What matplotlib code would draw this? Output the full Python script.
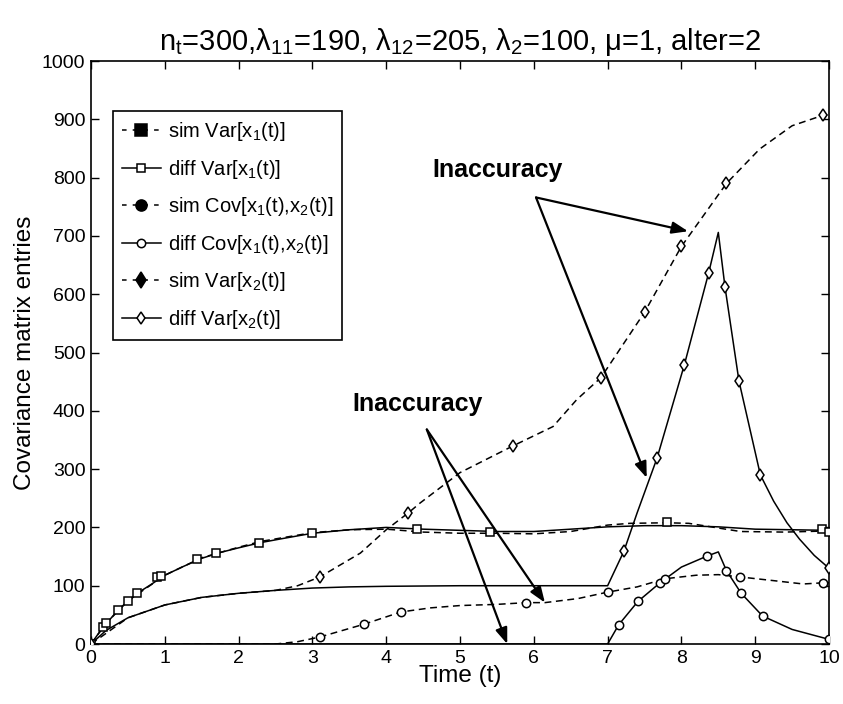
import matplotlib
matplotlib.use('Agg')
import matplotlib.pyplot as plt
from matplotlib.lines import Line2D

plt.rcParams['font.family'] = ['Liberation Sans', 'DejaVu Sans']
plt.rcParams['mathtext.fontset'] = 'custom'
plt.rcParams['mathtext.rm'] = 'Liberation Sans'
plt.rcParams['mathtext.it'] = 'Liberation Sans'
plt.rcParams['mathtext.bf'] = 'Liberation Sans:bold'

# Var[x1(t)]
t_var1_sim = [0, 0.2, 0.5, 1.0, 1.5, 2.0, 2.3, 3.0, 3.5, 4.0, 4.5, 5.0, 5.5, 6.0, 6.5,
              7.0, 7.3, 7.8, 8.1, 8.5, 8.8, 9.4, 10.0]
var1_sim = [0, 35, 74, 118, 148, 166, 176, 191, 196, 197, 192, 190, 190, 189, 193,
            204, 207, 208, 207, 199, 193, 192, 194]
t_var1_diff = [0, 0.1, 0.2, 0.35, 0.5, 0.65, 0.8, 1.0, 1.25, 1.5, 1.75, 2.0, 2.3, 2.6,
               3.0, 3.5, 4.0, 4.5, 5.0, 5.5, 6.0, 6.5, 7.0, 7.5, 8.0, 8.5, 9.0, 9.5, 10.0]
var1_diff = [0, 18, 34, 56, 74, 89, 101, 118, 133, 147, 157, 165, 174, 181,
             190, 196, 200, 197, 195, 193, 193, 197, 201, 203, 203, 201, 197, 196, 195]
t_var1_mk = [0.0, 0.16, 0.2, 0.37, 0.5, 0.62, 0.89, 0.95, 1.43, 1.7, 2.28, 3.0,
             4.42, 5.4, 7.8, 9.9, 10.0]
var1_mk = [0, 29, 36, 58, 74, 88, 115, 117, 146, 156, 174, 190, 197, 192, 210, 197, 192]

# Cov[x1(t), x2(t)]
t_cov_sim = [0, 2.5, 2.8, 3.1, 3.7, 4.2, 4.6, 5.0, 5.5, 5.9, 6.15, 6.6, 7.0, 7.4,
             7.78, 8.2, 8.5, 8.8, 9.3, 9.65, 9.92, 10.0]
cov_sim = [0, 0, 4, 12, 34, 55, 62, 66, 68, 71, 71, 78, 89, 98,
           112, 118, 119, 115, 108, 103, 105, 105]
t_cov_sim_mk = [3.1, 3.7, 4.2, 5.9, 7.0, 7.78, 8.8, 9.92]
cov_sim_mk = [12, 34, 55, 71, 89, 112, 115, 105]
t_cov_diff = [0, 7.0, 7.15, 7.41, 7.71, 8.0, 8.35, 8.5, 8.61, 8.81, 9.1, 9.5, 10.0]
cov_diff = [0, 0, 33, 73, 105, 132, 151, 158, 126, 87, 48, 25, 8]
t_cov_diff_mk = [7.15, 7.41, 7.71, 8.35, 8.61, 8.81, 9.1, 10.0]
cov_diff_mk = [33, 73, 105, 151, 126, 87, 48, 8]

# Var[x2(t)]
t_var2_sim = [0, 0.5, 1.0, 1.5, 2.0, 2.5, 2.8, 3.1, 3.65, 4.0, 4.3, 4.46, 5.0, 5.72,
              6.26, 6.58, 6.91, 7.5, 8.0, 8.61, 9.06, 9.5, 9.92, 10.0]
var2_sim = [0, 45, 67, 80, 87, 92, 100, 115, 156, 196, 225, 242, 294, 340,
            373, 419, 457, 569, 682, 790, 849, 889, 907, 908]
t_var2_sim_mk = [3.1, 4.3, 5.72, 6.91, 7.5, 8.0, 8.61, 9.92]
var2_sim_mk = [115, 225, 340, 457, 569, 682, 790, 907]
t_var2_diff = [0, 0.2, 0.5, 1.0, 1.5, 2.0, 2.5, 3.0, 3.5, 4.0, 5.0, 6.0, 7.0, 7.22,
               7.4, 7.67, 8.04, 8.37, 8.5, 8.59, 8.78, 9.07, 9.25, 9.43, 9.6, 9.8, 10.0]
var2_diff = [0, 23, 45, 67, 80, 87, 92, 96, 98, 99, 100, 100, 100, 159,
             225, 319, 479, 637, 706, 613, 451, 290, 245, 208, 180, 152, 130]
t_var2_diff_mk = [0.0, 7.22, 7.67, 8.04, 8.37, 8.59, 8.78, 9.07, 10.0]
var2_diff_mk = [0, 159, 319, 479, 637, 613, 451, 290, 130]

title = ('n$_t$=300,λ$_{11}$=190, λ$_{12}$=205, λ$_2$=100, μ=1, alter=2')
labels = ['sim Var[x$_1$(t)]', 'diff Var[x$_1$(t)]',
          'sim Cov[x$_1$(t),x$_2$(t)]', 'diff Cov[x$_1$(t),x$_2$(t)]',
          'sim Var[x$_2$(t)]', 'diff Var[x$_2$(t)]']

fig = plt.figure(figsize=(8.43, 7.04), dpi=100)
ax = fig.add_axes([0.108, 0.0852, 0.8754, 0.8281])

dash = (4.5, 3.0)
lw = 1.1
ms = 6
mk = dict(ls='none', mfc='white', mec='k', mew=1.1, ms=ms, zorder=3)

ax.plot(t_var1_diff, var1_diff, 'k-', lw=lw)
ax.plot(t_var1_sim, var1_sim, 'k--', lw=lw, dashes=dash)
ax.plot(t_var1_mk, var1_mk, marker='s', **mk)

ax.plot(t_cov_diff, cov_diff, 'k-', lw=lw)
ax.plot(t_cov_diff_mk, cov_diff_mk, marker='o', **mk)
ax.plot(t_cov_sim, cov_sim, 'k--', lw=lw, dashes=dash)
ax.plot(t_cov_sim_mk, cov_sim_mk, marker='o', **mk)

ax.plot(t_var2_diff, var2_diff, 'k-', lw=lw)
ax.plot(t_var2_diff_mk, var2_diff_mk, marker='d', **mk)
ax.plot(t_var2_sim, var2_sim, 'k--', lw=lw, dashes=dash)
ax.plot(t_var2_sim_mk, var2_sim_mk, marker='d', **mk)

ax.set_xlim(0, 10)
ax.set_ylim(0, 1000)
ax.set_xticks(range(0, 11))
ax.set_yticks(range(0, 1001, 100))
ax.tick_params(direction='in', length=6, width=1, top=True, right=True,
               labelsize=14, pad=4)
for s in ax.spines.values():
    s.set_linewidth(1.2)

ax.set_xlabel('Time (t)', fontsize=17.5, labelpad=-1)
ax.set_ylabel('Covariance matrix entries', fontsize=17.5, labelpad=4)
ax.set_title(title, fontsize=21, pad=8)

# legend: sim entries with filled markers, diff entries hollow
handles = []
for i, m in enumerate(['s', 's', 'o', 'o', 'd', 'd']):
    sim = i % 2 == 0
    handles.append(Line2D([], [], color='k', lw=lw,
                          ls='--' if sim else '-',
                          dashes=(3, 4) if sim else (None, None),
                          marker=m, ms=ms + 2 if sim else ms,
                          mfc='k' if sim else 'white', mec='k', mew=1.1))
leg = ax.legend(handles, labels, loc='upper left', bbox_to_anchor=(0.03, 0.914),
                fontsize=14.5, handlelength=1.9, handletextpad=0.35,
                labelspacing=0.72, borderpad=0.45, borderaxespad=0,
                fancybox=False, framealpha=1, edgecolor='k')
leg.get_frame().set_linewidth(1.2)

# annotations
arrow = dict(arrowstyle='-|>,head_length=0.8,head_width=0.3', lw=1.6,
             color='k', shrinkA=0, shrinkB=0, mutation_scale=12)
ax.text(5.51, 813, 'Inaccuracy', fontsize=18, fontweight='bold',
        ha='center', va='center')
ax.annotate('', xy=(8.09, 708), xytext=(6.03, 766), arrowprops=arrow)
ax.annotate('', xy=(7.53, 285), xytext=(6.03, 766), arrowprops=arrow)

ax.text(4.42, 412, 'Inaccuracy', fontsize=18, fontweight='bold',
        ha='center', va='center')
ax.annotate('', xy=(6.15, 71), xytext=(4.55, 368), arrowprops=arrow)
ax.annotate('', xy=(5.64, 0), xytext=(4.55, 368), arrowprops=arrow,
            annotation_clip=False)

fig.savefig('out.png', dpi=100)
